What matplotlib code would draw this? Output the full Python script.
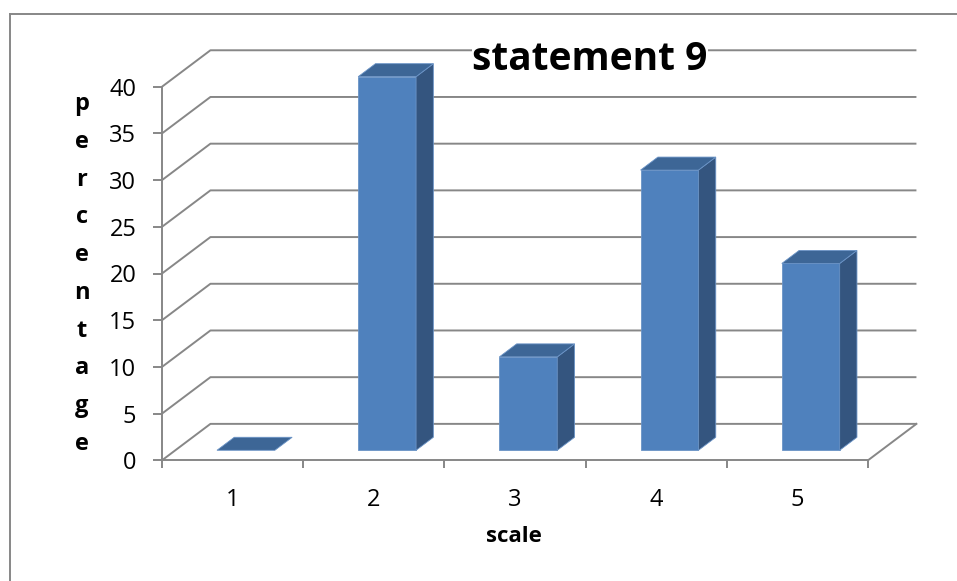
# Column chart of responses to statement 9, drawn with a pseudo-3D look.
# ---------------------------------------------------------------------------------------------- #
import matplotlib.pyplot as plt
from matplotlib.patches import Polygon
from matplotlib.lines import Line2D
# ---------------------------------------------------------------------------------------------- #


# ---------------------------------------------------------------------------------------------- #
# Chart data.
# ---------------------------------------------------------------------------------------------- #
Categories = ['1', '2', '3', '4', '5']
Percentages = [0, 40, 10, 30, 20]
YTicks = [0, 5, 10, 15, 20, 25, 30, 35, 40]
Title = 'statement 9'
XLabel = 'scale'
YLabel = 'percentage'
# ---------------------------------------------------------------------------------------------- #


# ---------------------------------------------------------------------------------------------- #
# Plot properties.
# ---------------------------------------------------------------------------------------------- #
FontType = 'Open Sans'
GridColor = '#878787'
FrontColor = '#4F81BD'
TopColor = '#3D6696'
SideColor = '#34557F'
EdgeColor = '#6A93C6'

# Depth of the floor and walls, in data units (x in categories, y in percent).
DX = 0.343
DY = 3.9

# Bar width and the front / back depth fractions of the bars.
BarWidth = 0.41
D0 = 0.275
D1 = 0.632

FigW, FigH = 957, 581
plt.rcParams['font.family'] = [FontType, 'DejaVu Sans']

Fig = plt.figure(figsize = (FigW / 100, FigH / 100), dpi = 100)
Ax = Fig.add_axes([0, 0, 1, 1])

# Data limits chosen so the front axis sits at a fixed place in the frame.
PxPerX = 141.2
PxPerY = 9.34
X0Px, Y0Px = 162, 460.3
Ax.set_xlim(0.5 - X0Px / PxPerX, 0.5 + (FigW - X0Px) / PxPerX)
Ax.set_ylim(-(FigH - Y0Px) / PxPerY, Y0Px / PxPerY)
Ax.patch.set_visible(False)
# ---------------------------------------------------------------------------------------------- #


# ---------------------------------------------------------------------------------------------- #
# Walls and floor: gridlines run along the left wall and across the back wall.
# ---------------------------------------------------------------------------------------------- #
XLeft = 0.5
XRight = len(Categories) + 0.5
for v in YTicks:
    Ax.plot([XLeft, XLeft + DX, XRight + DX], [v, v + DY, v + DY],
            color = GridColor, linewidth = 1.4, solid_capstyle = 'butt', zorder = 1)
Ax.plot([XRight, XRight + DX], [0, DY], color = GridColor, linewidth = 1.4, zorder = 1)
# ---------------------------------------------------------------------------------------------- #


# ---------------------------------------------------------------------------------------------- #
# Bars: front face, top face and right-hand side face.
# ---------------------------------------------------------------------------------------------- #
for i, Value in enumerate(Percentages):
    c = i + 1
    xl = c - BarWidth / 2
    xr = c + BarWidth / 2
    Front = [(xl + D0 * DX, D0 * DY), (xr + D0 * DX, D0 * DY),
             (xr + D0 * DX, Value + D0 * DY), (xl + D0 * DX, Value + D0 * DY)]
    Top = [(xl + D0 * DX, Value + D0 * DY), (xr + D0 * DX, Value + D0 * DY),
           (xr + D1 * DX, Value + D1 * DY), (xl + D1 * DX, Value + D1 * DY)]
    Side = [(xr + D0 * DX, D0 * DY), (xr + D1 * DX, D1 * DY),
            (xr + D1 * DX, Value + D1 * DY), (xr + D0 * DX, Value + D0 * DY)]
    if Value > 0:
        Ax.add_patch(Polygon(Front, closed = True, facecolor = FrontColor,
                             edgecolor = EdgeColor, linewidth = 0.6, zorder = 3))
        Ax.add_patch(Polygon(Side, closed = True, facecolor = SideColor,
                             edgecolor = EdgeColor, linewidth = 0.6, zorder = 3))
    Ax.add_patch(Polygon(Top, closed = True, facecolor = TopColor,
                         edgecolor = EdgeColor, linewidth = 0.6, zorder = 3))
# ---------------------------------------------------------------------------------------------- #


# ---------------------------------------------------------------------------------------------- #
# Axes: the front vertical axis and the front floor edge carry the ticks.
# ---------------------------------------------------------------------------------------------- #
for Name in ['top', 'right']:
    Ax.spines[Name].set_visible(False)
Ax.spines['left'].set_position(('data', XLeft))
Ax.spines['left'].set_bounds(0, max(YTicks))
Ax.spines['bottom'].set_position(('data', 0))
Ax.spines['bottom'].set_bounds(XLeft, XRight)
for Name in ['left', 'bottom']:
    Ax.spines[Name].set_color(GridColor)
    Ax.spines[Name].set_linewidth(1.4)
    Ax.spines[Name].set_zorder(2)

Ax.set_yticks(YTicks)
Ax.set_yticklabels([str(v) for v in YTicks])
Ax.tick_params(axis = 'y', direction = 'out', length = 6.5, width = 1.4,
               color = GridColor, pad = 12, labelsize = 17)

Ax.set_xticks([i + 0.5 for i in range(len(Categories) + 1)])
Ax.set_xticklabels([])
Ax.set_xticks(range(1, len(Categories) + 1), minor = True)
Ax.set_xticklabels(Categories, minor = True)
Ax.tick_params(axis = 'x', which = 'major', direction = 'out', length = 6, width = 1.4,
               color = GridColor)
Ax.tick_params(axis = 'x', which = 'minor', length = 0, pad = 20, labelsize = 17)
# ---------------------------------------------------------------------------------------------- #


# ---------------------------------------------------------------------------------------------- #
# Title, axis titles and chart frame.
# ---------------------------------------------------------------------------------------------- #
Fig.text(590 / FigW, 1 - 70 / FigH, Title, ha = 'center', va = 'baseline',
         fontsize = 28, fontweight = 'bold',
         bbox = dict(facecolor = 'white', edgecolor = 'none', pad = 0), zorder = 5)
Fig.text(514 / FigW, 1 - 537 / FigH, XLabel, ha = 'center', va = 'center',
         fontsize = 16, fontweight = 'bold')
Fig.text(82 / FigW, 1 - 274 / FigH, '\n'.join(YLabel), ha = 'center', va = 'center',
         fontsize = 17, fontweight = 'bold', linespacing = 1.76)

Fig.add_artist(Line2D([10 / FigW, 10 / FigW], [0, 1 - 13.5 / FigH],
                      color = GridColor, linewidth = 1.4))
Fig.add_artist(Line2D([10 / FigW, 1], [1 - 13.5 / FigH, 1 - 13.5 / FigH],
                      color = GridColor, linewidth = 1.4))

Fig.savefig('out.png', dpi = 100)
# ---------------------------------------------------------------------------------------------- #
